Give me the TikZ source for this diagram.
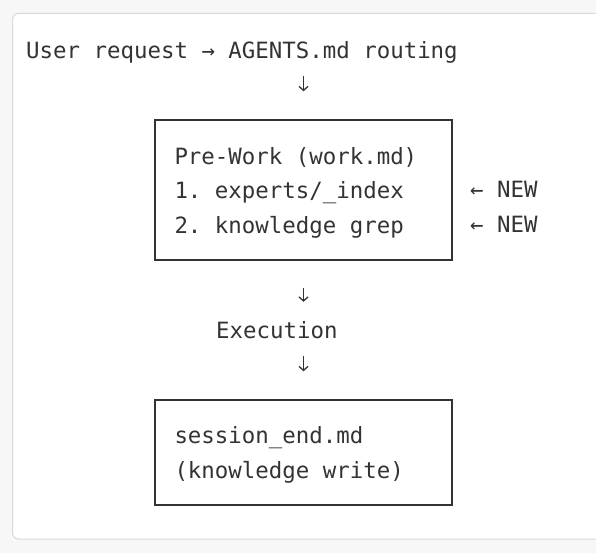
\documentclass[tikz,border=0pt]{standalone}
\usepackage{fontspec}
\setmonofont{DejaVu Sans Mono}
\usetikzlibrary{arrows.meta}
\definecolor{pagegray}{HTML}{F7F7F7}
\definecolor{cardline}{HTML}{D9D9D9}
\definecolor{ink}{HTML}{333333}
\tikzset{
  mono/.style={font=\ttfamily\fontsize{22.4}{34.5}\selectfont, text=ink},
  txt/.style={mono, inner sep=0pt, text height=17pt, text depth=5pt},
  stage/.style={mono, draw=ink, line width=1.5pt, inner xsep=19.5pt, inner ysep=0pt,
    minimum width=297pt, text width=258pt, text height=22pt, align=left,
    execute at begin node={\spaceskip=0pt\xspaceskip=0pt\relax}},
  flow/.style={draw=ink, line width=1.3pt, -{Straight Barb[length=4pt,width=9pt]}},
}
\begin{document}
\begin{tikzpicture}[x=1pt,y=-1pt]
\useasboundingbox (0,0) rectangle (596,553);
\fill[pagegray] (0,0) rectangle (596,553);
\begin{scope}
  \clip (0,0) rectangle (596,553);
  \draw[cardline, fill=white, line width=1pt, rounded corners=6pt] (12.5,13.5) rectangle (620,539);
\end{scope}
% stages
\node[txt, anchor=base west] (req) at (26,59) {User request → AGENTS.md routing};
\node[stage, minimum height=140pt] (pre) at (303.5,190) {Pre-Work (work.md)\\1. experts/\_index\\2. knowledge grep};
\node[txt, anchor=base west] (new1) at (470,198) {← NEW};
\node[txt, anchor=base west] (new2) at (470,232) {← NEW};
\node[txt, anchor=base west] (exec) at (216,338) {Execution};
\node[stage, minimum height=105pt] (sess) at (303.5,452.5) {session\_end.md\\(knowledge write)};
% arrows
\draw[flow, shorten <=12pt, shorten >=28pt] (req.south -| pre.north) -- (pre.north);
\draw[flow, shorten <=27pt, shorten >=19pt] (pre.south) -- (exec.north -| pre.south);
\draw[flow, shorten <=13pt, shorten >=28pt] (exec.south -| sess.north) -- (sess.north);
\end{tikzpicture}
\end{document}
